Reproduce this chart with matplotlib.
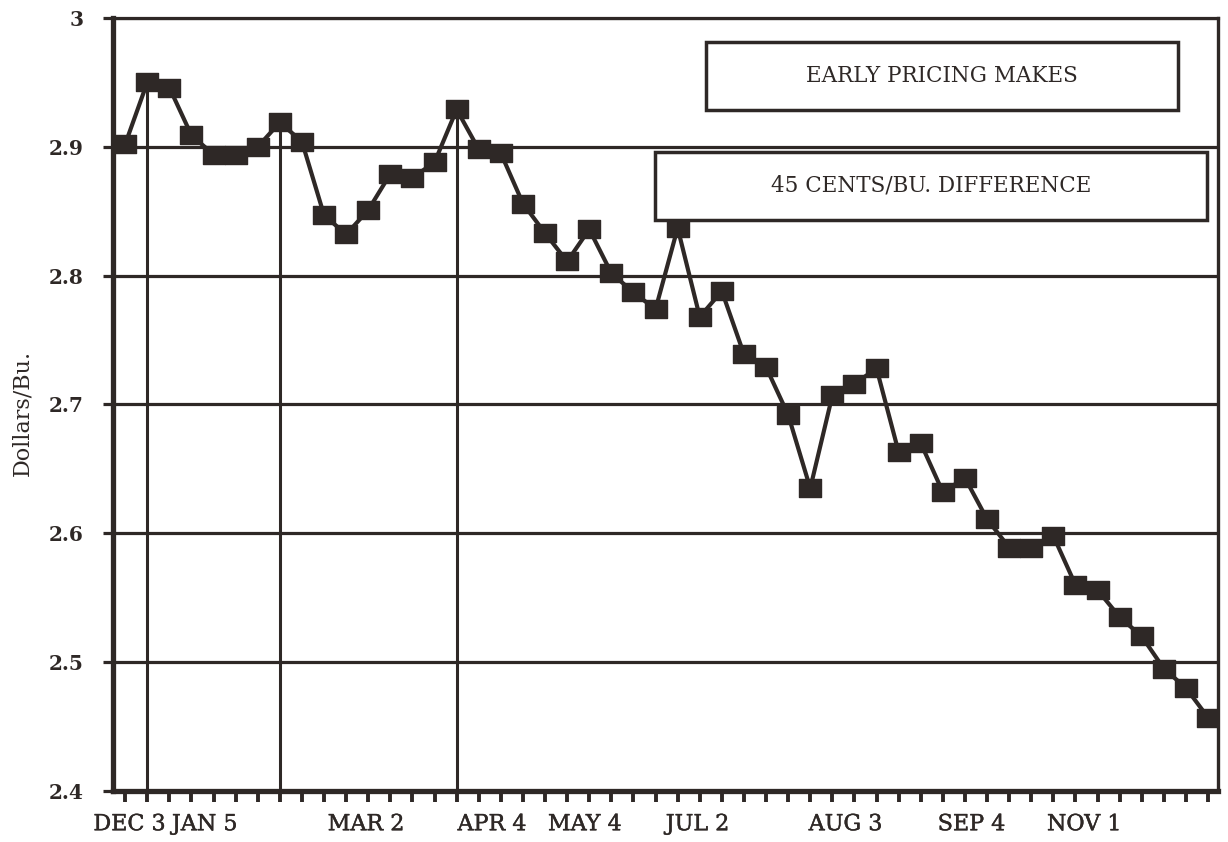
import numpy as np
import matplotlib.pyplot as plt
import matplotlib.patheffects as pe
from matplotlib.patches import Rectangle
from matplotlib.path import Path

ink = '#2e2826'

# weekly cash price, dollars per bushel
price = [2.902, 2.950, 2.946, 2.909, 2.894, 2.894, 2.900, 2.919, 2.904, 2.847,
         2.832, 2.851, 2.879, 2.876, 2.888, 2.929, 2.898, 2.895, 2.856, 2.833,
         2.811, 2.836, 2.802, 2.787, 2.774, 2.837, 2.768, 2.788, 2.739, 2.729,
         2.692, 2.635, 2.707, 2.716, 2.728, 2.663, 2.670, 2.632, 2.643, 2.611,
         2.589, 2.589, 2.598, 2.560, 2.556, 2.535, 2.520, 2.495, 2.480, 2.457]
peaks = [1, 7, 15]

date_labels = ['DEC 3', 'JAN 5', 'MAR 2', 'APR 4', 'MAY 4', 'JUL 2', 'AUG 3', 'SEP 4', 'NOV 1']
date_pos = [0.2, 3.6, 10.9, 16.6, 20.8, 25.9, 32.6, 38.3, 43.4]
y_ticks = [2.4, 2.5, 2.6, 2.7, 2.8, 2.9, 3.0]
y_labels = ['2.4', '2.5', '2.6', '2.7', '2.8', '2.9', '3']

note_top = 'EARLY PRICING MAKES'
note_bottom = '45 CENTS/BU. DIFFERENCE'

week = np.arange(len(price))
price = np.array(price)

# slightly wide square marker
box_marker = Path([(-1.2, -1), (1.2, -1), (1.2, 1), (-1.2, 1), (-1.2, -1)],
                  [Path.MOVETO, Path.LINETO, Path.LINETO, Path.LINETO, Path.CLOSEPOLY])

# thickens the thin serif a little
heavy = [pe.withStroke(linewidth=0.3, foreground=ink)]

fig = plt.figure(figsize=(12.28, 8.42), dpi=100)
ax = fig.add_axes([113 / 1228, 1 - 791 / 842, 1105 / 1228, 773 / 842])

ax.set_xlim(-0.55, 49.45)
ax.set_ylim(2.4, 3.0)

ax.grid(axis='y', color=ink, lw=2.3)
ax.grid(axis='x', visible=False)
ax.set_axisbelow(True)

ax.vlines(week[peaks], 2.4, price[peaks], color=ink, lw=2.2, zorder=2)
ax.plot(week, price, color=ink, lw=3.0, marker=box_marker, markersize=16,
        markerfacecolor=ink, markeredgecolor=ink, zorder=3)

for side, w in [('left', 3.8), ('bottom', 3.8), ('right', 2.4), ('top', 2.3)]:
    ax.spines[side].set_color(ink)
    ax.spines[side].set_linewidth(w)

ax.set_yticks(y_ticks)
ax.set_yticklabels(y_labels, family='DejaVu Serif', fontweight='bold', fontsize=14.5, color=ink)
ax.tick_params(axis='y', length=7, width=2.3, color=ink, pad=14)

ax.set_xticks(week)
ax.set_xticklabels([])
ax.tick_params(axis='x', which='major', length=8, width=2.8, color=ink)
ax.set_xticks(date_pos, minor=True)
ax.set_xticklabels(date_labels, minor=True, family='DejaVu Serif', fontsize=16, color=ink)
ax.tick_params(axis='x', which='minor', length=0, pad=16)
for lbl in ax.get_xticklabels(minor=True):
    lbl.set_path_effects(heavy)

fig.text(22 / 1228, 1 - 413 / 842, 'Dollars/Bu.', rotation=90, ha='center', va='center',
         family='DejaVu Serif', fontsize=16, color=ink)

# annotation boxes
for (x0, y0, x1, y1), txt in [((0.5367, 0.881, 0.9638, 0.969), note_top),
                              ((0.4905, 0.7387, 0.990, 0.8267), note_bottom)]:
    ax.add_patch(Rectangle((x0, y0), x1 - x0, y1 - y0, transform=ax.transAxes,
                           facecolor='white', edgecolor=ink, lw=2.5, zorder=5))
    ax.text((x0 + x1) / 2, (y0 + y1) / 2, txt, transform=ax.transAxes, ha='center',
            va='center', family='DejaVu Serif', fontsize=15.5, color=ink, zorder=6)

fig.savefig('out.png', dpi=100)
